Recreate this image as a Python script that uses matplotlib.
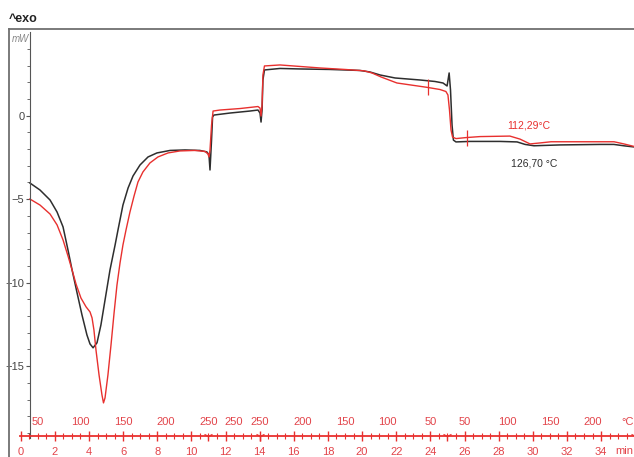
import matplotlib
matplotlib.use('Agg')
import matplotlib.pyplot as plt
from matplotlib.lines import Line2D
from matplotlib.ticker import FixedLocator

plt.rcParams['font.family'] = ['Liberation Sans Narrow', 'Liberation Sans', 'DejaVu Sans']

# DSC heat flow (mW) against time (min), two runs
t_black = [0.54, 1.13, 1.72, 2.13, 2.48, 2.77, 3.01, 3.30, 3.59, 3.88, 4.06, 4.24, 4.47,
           4.70, 4.94, 5.23, 5.53, 5.70, 5.99, 6.29, 6.58, 6.99, 7.46, 7.98, 8.75, 9.63,
           10.5, 10.91, 11.03, 11.09, 11.18, 11.24, 11.32, 12.26, 13.43, 13.90, 14.02,
           14.08, 14.14, 14.19, 14.28, 15.19, 16.36, 18.12, 19.87, 20.46, 21.05, 21.93,
           23.39, 24.27, 24.74, 24.98, 25.1, 25.18, 25.27, 25.35, 25.5, 26.32, 28.08,
           29.08, 29.55, 30.07, 31.59, 33.93, 34.75, 35.4, 35.93]
hf_black = [-4.03, -4.45, -5.05, -5.77, -6.66, -8.04, -9.24, -10.6, -11.93, -13.13, -13.67,
            -13.9, -13.6, -12.53, -11.04, -9.24, -7.74, -6.84, -5.35, -4.33, -3.61, -2.95,
            -2.47, -2.23, -2.08, -2.05, -2.08, -2.17, -2.35, -3.25, -1.46, -0.08, 0.04,
            0.16, 0.28, 0.34, 0.16, -0.38, 0.34, 2.14, 2.74, 2.83, 2.8, 2.77, 2.71, 2.62,
            2.44, 2.26, 2.14, 2.05, 1.96, 1.78, 2.56, 1.54, -0.56, -1.46, -1.57, -1.54,
            -1.54, -1.57, -1.72, -1.8, -1.75, -1.72, -1.72, -1.81, -1.87]

t_red = [0.54, 1.13, 1.72, 2.13, 2.48, 2.77, 3.01, 3.24, 3.53, 3.83, 4.06, 4.18, 4.29,
         4.41, 4.59, 4.76, 4.85, 4.94, 5.11, 5.29, 5.47, 5.64, 5.82, 5.99, 6.17, 6.40,
         6.64, 6.87, 7.16, 7.57, 8.04, 8.63, 9.33, 10.21, 10.8, 10.97, 11.03, 11.09,
         11.18, 11.27, 11.67, 12.85, 13.9, 14.02, 14.08, 14.14, 14.19, 14.28, 15.19,
         16.36, 17.53, 19.0, 20.11, 20.58, 21.11, 22.04, 23.8, 24.56, 24.91, 25.03,
         25.12, 25.21, 25.3, 25.5, 26.09, 26.91, 28.66, 29.25, 29.84, 30.43, 31.07,
         34.76, 35.34, 35.93]
hf_red = [-4.99, -5.35, -5.89, -6.54, -7.44, -8.4, -9.24, -10.08, -10.92, -11.45, -11.75,
          -12.11, -12.83, -14.03, -15.53, -16.72, -17.2, -16.9, -15.53, -13.73, -11.81,
          -10.14, -8.81, -7.74, -6.84, -5.77, -4.81, -3.97, -3.37, -2.83, -2.47, -2.23,
          -2.11, -2.08, -2.14, -2.29, -2.47, -2.05, -0.56, 0.28, 0.34, 0.43, 0.55, 0.46,
          -0.02, 0.64, 2.44, 2.98, 3.04, 2.95, 2.86, 2.77, 2.69, 2.56, 2.32, 1.96, 1.7,
          1.57, 1.45, 1.24, 0.34, -0.86, -1.28, -1.37, -1.31, -1.25, -1.22, -1.4, -1.69,
          -1.63, -1.56, -1.56, -1.69, -1.84]

# glass transition evaluation limits on the red run
mark_t = [23.88, 26.13]
mark_hf = [1.69, -1.31]

# temperature program (deg C) printed above the time axis
temp_pos = [1.0, 3.5, 6.0, 8.5, 11.0, 12.5, 14.0, 16.5, 19.0, 21.5, 24.0,
            26.0, 28.5, 31.0, 33.5]
temp_lbl = ['50', '100', '150', '200', '250', '250', '250', '200', '150', '100', '50',
            '50', '100', '150', '200']
seg_marks = [11.0, 14.0, 25.0, 36.0]

time_ticks = list(range(0, 35, 2))

RED = '#e8302e'
RED_TXT = '#e2444a'
BLACK = '#2e2e2e'

fig = plt.figure(figsize=(6.34, 4.57), dpi=100)
ax = fig.add_axes([0, 0, 1, 1])
ax.set_xlim(-1.213, 35.93)
ax.set_ylim(-20.44, 6.93)
ax.patch.set_visible(False)

axis_y = -19.16
ax.spines['top'].set_visible(False)
ax.spines['right'].set_visible(False)
ax.spines['left'].set_position(('data', 0.54))
ax.spines['left'].set_bounds(-19.3, 5.0)
ax.spines['left'].set_color('#555555')
ax.spines['bottom'].set_position(('data', axis_y))
ax.spines['bottom'].set_bounds(-0.05, 35.93)
ax.spines['bottom'].set_color(RED)
ax.spines['bottom'].set_linewidth(1.3)

ax.set_yticks([-15, -10, -5, 0])
ax.yaxis.set_minor_locator(FixedLocator(range(-19, 5)))
ax.tick_params(axis='y', which='both', direction='out', color='#555555',
               labelcolor='#444444', labelsize=8, pad=1)
ax.tick_params(axis='y', which='major', length=3)
ax.tick_params(axis='y', which='minor', length=2)

ax.set_xticks(time_ticks)
ax.set_xticklabels([str(v) for v in time_ticks])
ax.xaxis.set_minor_locator(FixedLocator([v * 0.5 for v in range(0, 72)]))
ax.tick_params(axis='x', which='both', direction='inout', color=RED,
               labelcolor=RED_TXT, labelsize=8, pad=4.5)
ax.tick_params(axis='x', which='major', length=7, width=1)
ax.tick_params(axis='x', which='minor', length=4, width=0.8)

ax.plot(seg_marks, [axis_y] * len(seg_marks), ls='none', marker='1', ms=7,
        mew=1, color=RED, clip_on=False)
for p, s in zip(temp_pos, temp_lbl):
    ax.text(p, -18.34, s, color=RED_TXT, fontsize=8, ha='center', va='center',
            clip_on=False)

# unit labels at the right end of the two scales
ax.text(35.9, -18.34, '°C', color=RED_TXT, fontsize=8, ha='right', va='center')
ax.text(35.9, -20.06, 'min', color=RED_TXT, fontsize=8, ha='right', va='center')

ax.plot(t_black, hf_black, color=BLACK, lw=1.1)
ax.plot(t_red, hf_red, color=RED, lw=1.0)
ax.plot(mark_t, mark_hf, ls='none', marker='|', ms=11, mew=0.9, color=RED)

ax.text(29.78, -0.56, '112,29°C', color=RED, fontsize=7.5, ha='center', va='center')
ax.text(30.07, -2.89, '126,70 °C', color=BLACK, fontsize=7.5, ha='center', va='center')

# outer frame and header
fig.add_artist(Line2D([9 / 634, 1], [1 - 29 / 457, 1 - 29 / 457], color='#707070', lw=1.3))
fig.add_artist(Line2D([9 / 634, 9 / 634], [0, 1 - 29 / 457], color='#707070', lw=1.3))
fig.text(9 / 634, 1 - 19 / 457, '^exo', fontsize=9, color='#222222', va='center',
         fontweight='bold')
fig.text(12 / 634, 1 - 39 / 457, 'mW', fontsize=7, color='#888888', va='center',
         style='italic')

fig.savefig('out.png', dpi=100, facecolor='white')
